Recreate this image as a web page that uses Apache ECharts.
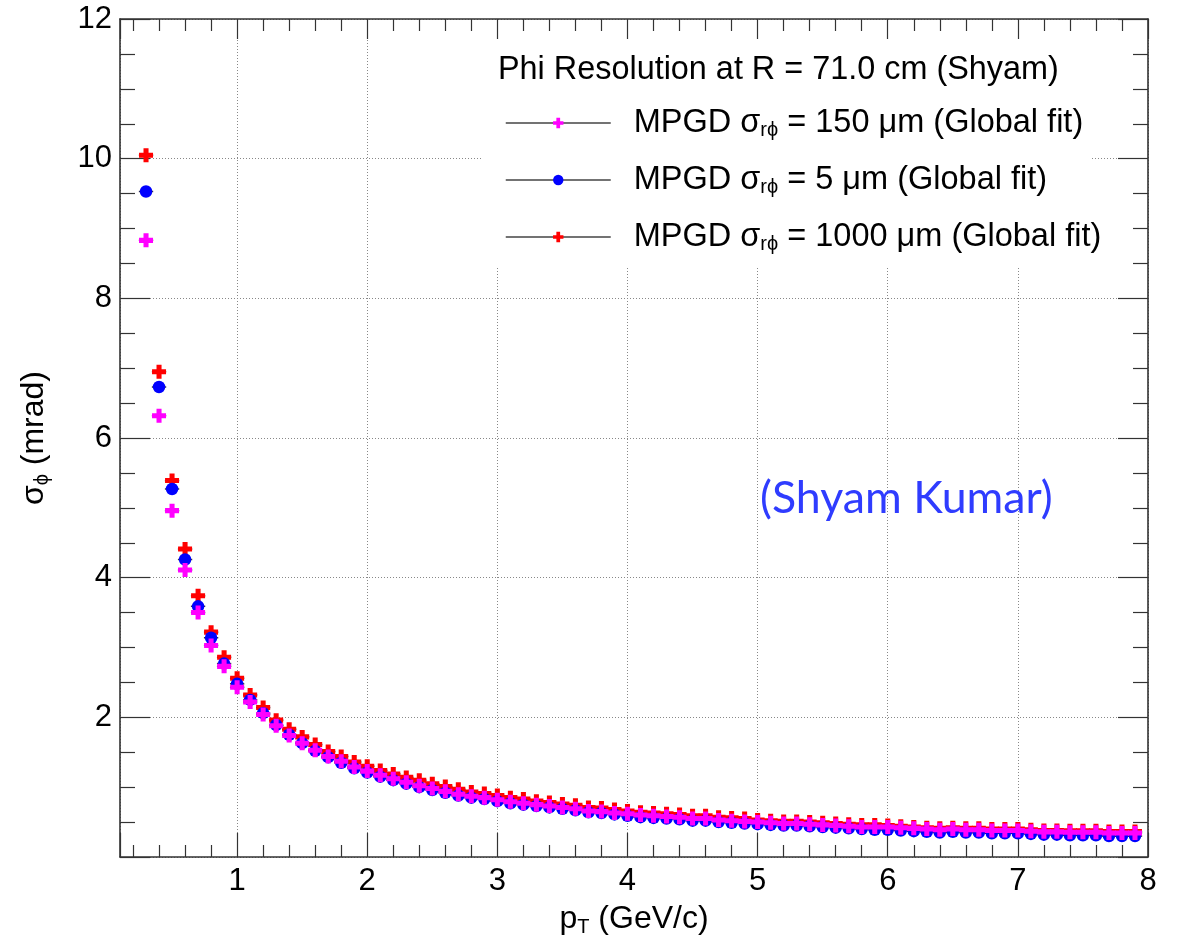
<!DOCTYPE html>
<html>
<head>
<meta charset="utf-8">
<script src="https://cdn.jsdelivr.net/npm/echarts@6/dist/echarts.min.js"></script>
<style>
  html, body { margin: 0; padding: 0; background: #fff; }
  #chart { width: 1183px; height: 943px; }
</style>
</head>
<body>
<div id="chart"></div>
<script>
// ---------------- data ----------------
const pT = [0.3,0.4,0.5,0.6,0.7,0.8,0.9,1.0,1.1,1.2,1.3,1.4,1.5,1.6,1.7,1.8,1.9,2.0,
  2.1,2.2,2.3,2.4,2.5,2.6,2.7,2.8,2.9,3.0,3.1,3.2,3.3,3.4,3.5,3.6,3.7,3.8,3.9,4.0,
  4.1,4.2,4.3,4.4,4.5,4.6,4.7,4.8,4.9,5.0,5.1,5.2,5.3,5.4,5.5,5.6,5.7,5.8,5.9,6.0,
  6.1,6.2,6.3,6.4,6.5,6.6,6.7,6.8,6.9,7.0,7.1,7.2,7.3,7.4,7.5,7.6,7.7,7.8,7.9];

// MPGD sigma_rphi = 150 um (magenta crosses)
const res150 = [8.83,6.32,4.96,4.11,3.50,3.03,2.73,2.43,2.22,2.04,1.88,1.74,1.63,1.53,1.44,1.37,1.29,1.23,
  1.17,1.12,1.07,1.02,0.98,0.94,0.90,0.87,0.85,0.82,0.79,0.77,0.75,0.73,0.71,0.69,0.66,0.65,0.63,0.62,
  0.60,0.59,0.58,0.57,0.55,0.55,0.53,0.52,0.51,0.50,0.49,0.48,0.48,0.47,0.46,0.45,0.44,0.43,0.43,0.43,
  0.42,0.41,0.40,0.39,0.40,0.39,0.39,0.38,0.38,0.38,0.37,0.36,0.36,0.355,0.355,0.355,0.345,0.345,0.345];

// MPGD sigma_rphi = 5 um (blue circles)
const res5 = [9.53,6.73,5.27,4.26,3.59,3.14,2.77,2.48,2.25,2.06,1.89,1.75,1.63,1.52,1.43,1.35,1.27,1.21,
  1.15,1.10,1.05,1.00,0.96,0.92,0.88,0.85,0.83,0.80,0.77,0.75,0.73,0.71,0.69,0.67,0.64,0.63,0.61,0.59,
  0.57,0.56,0.55,0.54,0.52,0.52,0.50,0.49,0.48,0.47,0.46,0.45,0.45,0.44,0.43,0.42,0.41,0.40,0.39,0.39,
  0.38,0.37,0.36,0.35,0.36,0.35,0.35,0.34,0.34,0.34,0.33,0.32,0.32,0.31,0.31,0.31,0.30,0.30,0.30];

// MPGD sigma_rphi = 1000 um (red crosses)
const res1000 = [10.05,6.95,5.39,4.41,3.74,3.22,2.86,2.56,2.32,2.14,1.96,1.83,1.72,1.61,1.51,1.44,1.36,1.30,
  1.24,1.19,1.14,1.10,1.05,1.01,0.97,0.93,0.91,0.88,0.85,0.83,0.80,0.78,0.76,0.74,0.71,0.70,0.68,0.66,
  0.64,0.63,0.62,0.61,0.59,0.59,0.57,0.56,0.55,0.53,0.52,0.51,0.51,0.50,0.49,0.48,0.47,0.46,0.46,0.45,
  0.44,0.43,0.42,0.41,0.42,0.41,0.41,0.40,0.40,0.40,0.39,0.38,0.38,0.375,0.375,0.375,0.365,0.365,0.365];

const pTError = 0.055; // horizontal half-width of the bins

const seriesNames = ['MPGD 150', 'MPGD 5', 'MPGD 1000'];
const legendLabels = {
  'MPGD 150': 'MPGD σ{s|rϕ} = 150 μm (Global fit)',
  'MPGD 5': 'MPGD σ{s|rϕ} = 5 μm (Global fit)',
  'MPGD 1000': 'MPGD σ{s|rϕ} = 1000 μm (Global fit)'
};
const xTicksMin = 0.1, xTicksMax = 8;
const yMin = 0, yMax = 12, yStep = 2;

// ---------------- chart ----------------
const FONT = '"Liberation Sans", Arial, Helvetica, sans-serif';
const crossPath = 'path://M3.2,0 H6.8 V3.2 H10 V6.8 H6.8 V10 H3.2 V6.8 H0 V3.2 H3.2 Z';

function pairs(ys) { return pT.map((x, i) => [x, ys[i]]); }

function errSeries(ys, z) {
  return {
    type: 'custom',
    silent: true,
    z: z,
    data: pairs(ys),
    renderItem: function (params, api) {
      const x = api.value(0), y = api.value(1);
      const a = api.coord([x - pTError, y]);
      const b = api.coord([x + pTError, y]);
      return {
        type: 'line',
        shape: { x1: a[0], y1: a[1], x2: b[0], y2: b[1] },
        style: { stroke: '#333', lineWidth: 1.5 }
      };
    }
  };
}

function markerSeries(name, ys, symbol, size, color, z) {
  return {
    name: name,
    type: 'line',
    data: pairs(ys),
    symbol: symbol,
    symbolSize: size,
    showAllSymbol: true,
    z: z,
    itemStyle: { color: color, opacity: 1 },
    lineStyle: { width: 0, opacity: 0 },
    emphasis: { disabled: true }
  };
}

const axisLineStyle = { color: '#333', width: 1.6 };
const tickStyle = { color: '#333', width: 1.2 };
const titleRich = {
  n: { fontSize: 32, lineHeight: 36, color: '#000', fontFamily: FONT },
  s: { fontSize: 20, lineHeight: 14, verticalAlign: 'bottom', color: '#000', fontFamily: FONT }
};

const chart = echarts.init(document.getElementById('chart'), null, { renderer: 'canvas' });
chart.setOption({
  animation: false,
  backgroundColor: '#fff',
  textStyle: { fontFamily: FONT },
  grid: { left: 120, right: 35, top: 19, bottom: 86, containLabel: false },
  xAxis: [{
    type: 'value',
    min: xTicksMin, max: xTicksMax, splitNumber: 8,
    position: 'bottom',
    axisLine: { show: true, onZero: false, lineStyle: axisLineStyle },
    axisTick: { show: true, inside: true, length: 24, lineStyle: tickStyle },
    minorTick: { show: true, splitNumber: 5, length: 12, lineStyle: tickStyle },
    axisLabel: { show: true, showMinLabel: false, margin: 9, fontSize: 31, color: '#000', fontFamily: FONT },
    splitLine: { show: true, lineStyle: { color: '#888', width: 1, type: [1, 2] } },
    name: '{n|p}{s|T}{n| (GeV/c)}',
    nameLocation: 'middle',
    nameGap: 44,
    nameTextStyle: { color: '#000', fontFamily: FONT, rich: titleRich }
  }, {
    type: 'value',
    min: xTicksMin, max: xTicksMax, splitNumber: 8,
    position: 'top',
    axisLine: { show: true, onZero: false, lineStyle: axisLineStyle },
    axisTick: { show: true, inside: true, length: 20, lineStyle: tickStyle },
    minorTick: { show: true, splitNumber: 5, length: 12, lineStyle: tickStyle },
    axisLabel: { show: false },
    splitLine: { show: false }
  }],
  yAxis: [{
    type: 'value',
    min: yMin, max: yMax, interval: yStep,
    position: 'left',
    axisLine: { show: true, onZero: false, lineStyle: axisLineStyle },
    axisTick: { show: true, inside: true, length: 30, lineStyle: tickStyle },
    minorTick: { show: true, splitNumber: 4, length: 15, lineStyle: tickStyle },
    axisLabel: { show: true, showMinLabel: false, margin: 8, fontSize: 31, color: '#000', fontFamily: FONT },
    splitLine: { show: true, lineStyle: { color: '#888', width: 1, type: [1, 2] } },
    name: '{n|σ}{s|ϕ}{n| (mrad)}',
    nameLocation: 'middle',
    nameGap: 68,
    nameTextStyle: { color: '#000', fontFamily: FONT, rich: titleRich }
  }, {
    type: 'value',
    min: yMin, max: yMax, interval: yStep,
    position: 'right',
    axisLine: { show: true, onZero: false, lineStyle: axisLineStyle },
    axisTick: { show: true, inside: true, length: 30, lineStyle: tickStyle },
    minorTick: { show: true, splitNumber: 4, length: 15, lineStyle: tickStyle },
    axisLabel: { show: false },
    splitLine: { show: false }
  }],
  legend: {
    data: seriesNames,
    orient: 'vertical',
    left: 505, top: 106,
    padding: 0,
    itemWidth: 105, itemHeight: 13, itemGap: 23,
    selectedMode: false,
    lineStyle: { color: '#444', width: 1.5, opacity: 1, type: 'solid' },
    formatter: function (name) { return legendLabels[name]; },
    textStyle: {
      padding: [0, 0, 0, 18],
      color: '#000', fontFamily: FONT, fontSize: 32.5,
      rich: {
        s: { fontSize: 20, lineHeight: 14, verticalAlign: 'bottom', color: '#000', fontFamily: FONT }
      },
      lineHeight: 34
    },
    z: 10
  },
  graphic: [
    { type: 'rect', z: 1, shape: { x: 482, y: 40, width: 608, height: 228 }, style: { fill: '#fff' }, silent: true },
    { type: 'text', z: 11, x: 498, y: 70, style: { text: 'Phi Resolution at R = 71.0 cm (Shyam)', font: '32.4px ' + FONT, fill: '#000', textVerticalAlign: 'middle' }, silent: true },
    { type: 'text', z: 11, x: 760, y: 499, style: { text: '(Shyam Kumar)', font: '44.7px Lato, "Open Sans", sans-serif', fill: '#2f3cff', textVerticalAlign: 'middle' }, silent: true }
  ],
  series: [
    errSeries(res1000, 2),
    markerSeries('MPGD 1000', res1000, crossPath, 14, '#ff0000', 3),
    errSeries(res5, 4),
    markerSeries('MPGD 5', res5, 'circle', 12.5, '#0000ff', 5),
    errSeries(res150, 6),
    markerSeries('MPGD 150', res150, crossPath, 14, '#ff00ff', 7)
  ]
});
</script>
</body>
</html>
